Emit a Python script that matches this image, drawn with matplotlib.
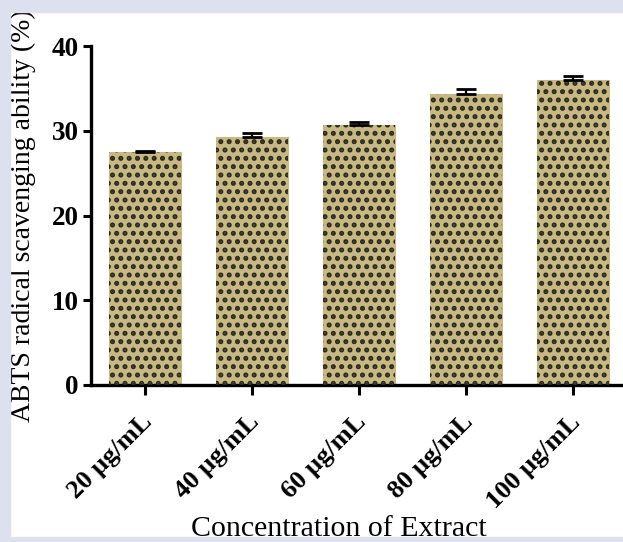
import matplotlib.pyplot as plt
from matplotlib.patches import Rectangle
from matplotlib.transforms import ScaledTranslation

# data
categories = ['20 µg/mL', '40 µg/mL', '60 µg/mL', '80 µg/mL', '100 µg/mL']
means = [27.45, 29.25, 30.7, 34.35, 35.95]
errors = [0.12, 0.5, 0.3, 0.55, 0.5]
y_ticks = [0, 10, 20, 30, 40]

plt.rcParams['font.family'] = ['Liberation Serif', 'DejaVu Serif']
plt.rcParams['hatch.linewidth'] = 2.4

W, H = 623, 542
fig = plt.figure(figsize=(W / 100, H / 100), dpi=100)
fig.patch.set_facecolor('white')

ax = fig.add_axes([91 / W, 1 - 385 / H, (W - 91) / W, (385 - 46) / H])
x = list(range(len(categories)))

# khaki fill, then dark dot pattern on top
ax.bar(x, means, width=0.67, color='#c8b984', edgecolor='#c8b984',
       linewidth=0.8, zorder=2)
ax.bar(x, means, width=0.67, color='none', edgecolor='#2b2a1e',
       hatch='..', linewidth=0, zorder=3)
ax.errorbar(x, means, yerr=[[0] * len(errors), errors], fmt='none',
            ecolor='black', elinewidth=1.6, capsize=7, capthick=2, zorder=4)

ax.set_xlim(-0.505, 4.47)
ax.set_ylim(0, 40)
ax.set_yticks(y_ticks)
ax.set_xticks(x)
ax.set_xticklabels(categories, rotation=45, ha='right', va='center',
                   rotation_mode='anchor', fontsize=19, fontweight='bold')
ax.tick_params(axis='y', labelsize=19.5, width=2.2, length=6, pad=3)
ax.tick_params(axis='x', width=2.2, length=7, pad=12)
for lab in ax.get_yticklabels():
    lab.set_fontweight('bold')
# nudge rotated labels right and down a little
shift = ScaledTranslation(0.04, -0.07, fig.dpi_scale_trans)
for lab in ax.get_xticklabels():
    lab.set_transform(lab.get_transform() + shift)

for side in ['top', 'right']:
    ax.spines[side].set_visible(False)
for side in ['left', 'bottom']:
    ax.spines[side].set_linewidth(2.4)
ax.set_facecolor('white')

fig.text(339 / W, 1 - 536 / H, 'Concentration of Extract', ha='center',
         va='baseline', fontsize=21.5)
fig.text(23 / W, 1 - 216 / H, 'ABTS radical scavenging ability (%)',
         ha='center', va='center', rotation=90, fontsize=20)

# lavender frame around the white panel
frame = '#dde0ef'
fig.patches.append(Rectangle((0, 0), 10 / W, 1, transform=fig.transFigure,
                             color=frame, zorder=10))
fig.patches.append(Rectangle((0, 1 - 12 / H), 1, 12 / H,
                             transform=fig.transFigure, color=frame, zorder=10))
fig.patches.append(Rectangle((0, 0), 1, 5 / H, transform=fig.transFigure,
                             color=frame, zorder=10))

fig.savefig('out.png', dpi=100)
